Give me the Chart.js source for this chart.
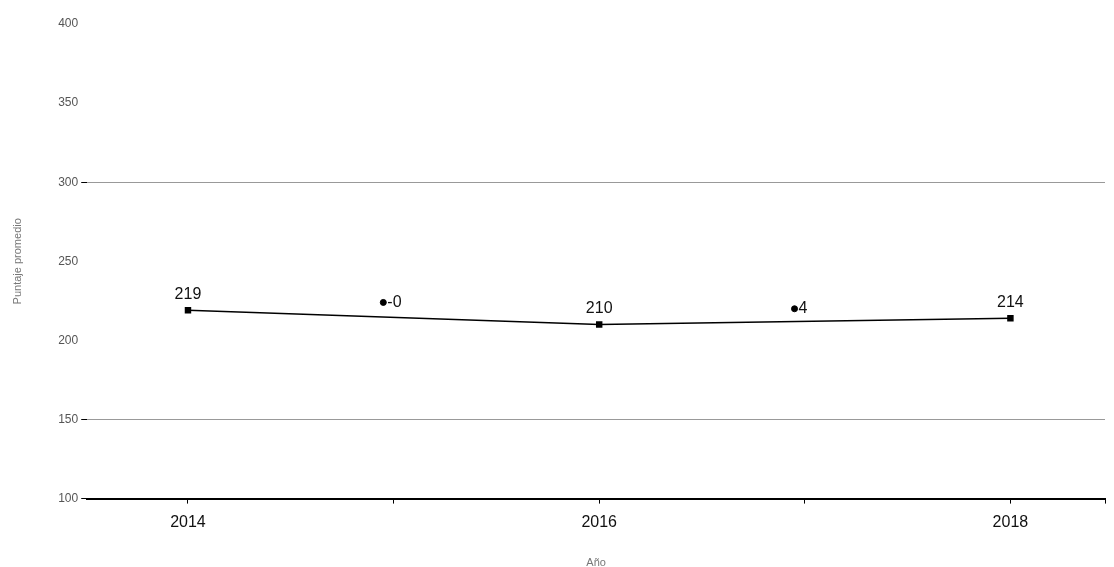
<!DOCTYPE html>
<html>
<head>
<meta charset="utf-8">
<script src="https://cdn.jsdelivr.net/npm/chart.js@4"></script>
<style>
    html, body { margin: 0; padding: 0; background: #fff; }
    #wrap { width: 1114px; height: 567px; position: relative; }
</style>
</head>
<body>
<div id="wrap"><canvas id="chart"></canvas></div>
<script>
const YEARS = [2014, 2016, 2018];
const SCORES = [219, 210, 214];
const LABELS = ['219', '210', '214'];

const DIFF_X = [2014.95, 2016.95];
const DIFF_Y = [224, 220];
const DIFF_LABELS = ['-0', '4'];

const X_TICKS = [2014, 2015, 2016, 2017, 2018];
const X_MIN = 2013.51;
const X_MAX = 2018.46;
const Y_GRID = [150, 300];

const FONT = '"Liberation Sans", Arial, sans-serif';

const pointLabels = {
    id: 'pointLabels',
    afterDatasetsDraw(chart) {
        const { ctx, scales: { x, y } } = chart;
        ctx.save();
        ctx.fillStyle = '#111';
        ctx.font = `16px ${FONT}`;
        ctx.textAlign = 'center';
        ctx.textBaseline = 'bottom';
        YEARS.forEach((yr, i) => {
            ctx.fillText(LABELS[i], x.getPixelForValue(yr), y.getPixelForValue(SCORES[i]) - 8);
        });
        ctx.textAlign = 'left';
        ctx.textBaseline = 'middle';
        DIFF_X.forEach((xv, i) => {
            ctx.fillText(DIFF_LABELS[i], x.getPixelForValue(xv) + 4, y.getPixelForValue(DIFF_Y[i]));
        });
        ctx.restore();
    },
};

new Chart(document.getElementById('chart'), {
    type: 'line',
    data: {
        datasets: [
            {
                data: YEARS.map((yr, i) => ({ x: yr, y: SCORES[i] })),
                borderColor: '#000',
                backgroundColor: '#000',
                borderWidth: 1.5,
                pointStyle: 'rect',
                pointRadius: 3.5,
                tension: 0,
            },
            {
                data: DIFF_X.map((xv, i) => ({ x: xv, y: DIFF_Y[i] })),
                showLine: false,
                borderColor: '#000',
                backgroundColor: '#000',
                pointRadius: 3,
            },
        ],
    },
    options: {
        responsive: true,
        maintainAspectRatio: false,
        animation: false,
        layout: { padding: { top: 24, right: 2, left: 7, bottom: -7 } },
        plugins: { legend: { display: false }, tooltip: { enabled: false } },
        scales: {
            x: {
                type: 'linear',
                min: X_MIN,
                max: X_MAX,
                afterBuildTicks: (axis) => {
                    axis.ticks = X_TICKS.concat([X_MAX]).map((v) => ({ value: v }));
                },
                ticks: {
                    autoSkip: false,
                    maxRotation: 0,
                    color: '#111',
                    font: { size: 16, family: FONT },
                    padding: 9,
                    callback: (v) => (v % 2 === 0 ? String(v) : ''),
                },
                grid: { drawOnChartArea: false, drawTicks: true, tickLength: 5, color: '#000' },
                border: { color: '#000', width: 2 },
                title: {
                    display: true,
                    text: 'Año',
                    color: '#777',
                    font: { size: 11, family: FONT },
                    padding: { top: 16 },
                },
            },
            y: {
                min: 100,
                max: 400,
                ticks: {
                    stepSize: 50,
                    color: '#555',
                    font: { size: 12, family: FONT },
                    padding: 3,
                },
                grid: {
                    color: (c) => (Y_GRID.includes(c.tick?.value) ? '#999' : 'rgba(0,0,0,0)'),
                    tickColor: (c) => (Y_GRID.includes(c.tick?.value) || c.tick?.value === 100 ? '#000' : 'rgba(0,0,0,0)'),
                    tickLength: 6,
                    lineWidth: 1,
                },
                border: { display: false },
                title: {
                    display: true,
                    text: 'Puntaje promedio',
                    color: '#777',
                    font: { size: 11, family: FONT },
                    padding: { bottom: 31 },
                },
            },
        },
    },
    plugins: [pointLabels],
});
</script>
</body>
</html>
